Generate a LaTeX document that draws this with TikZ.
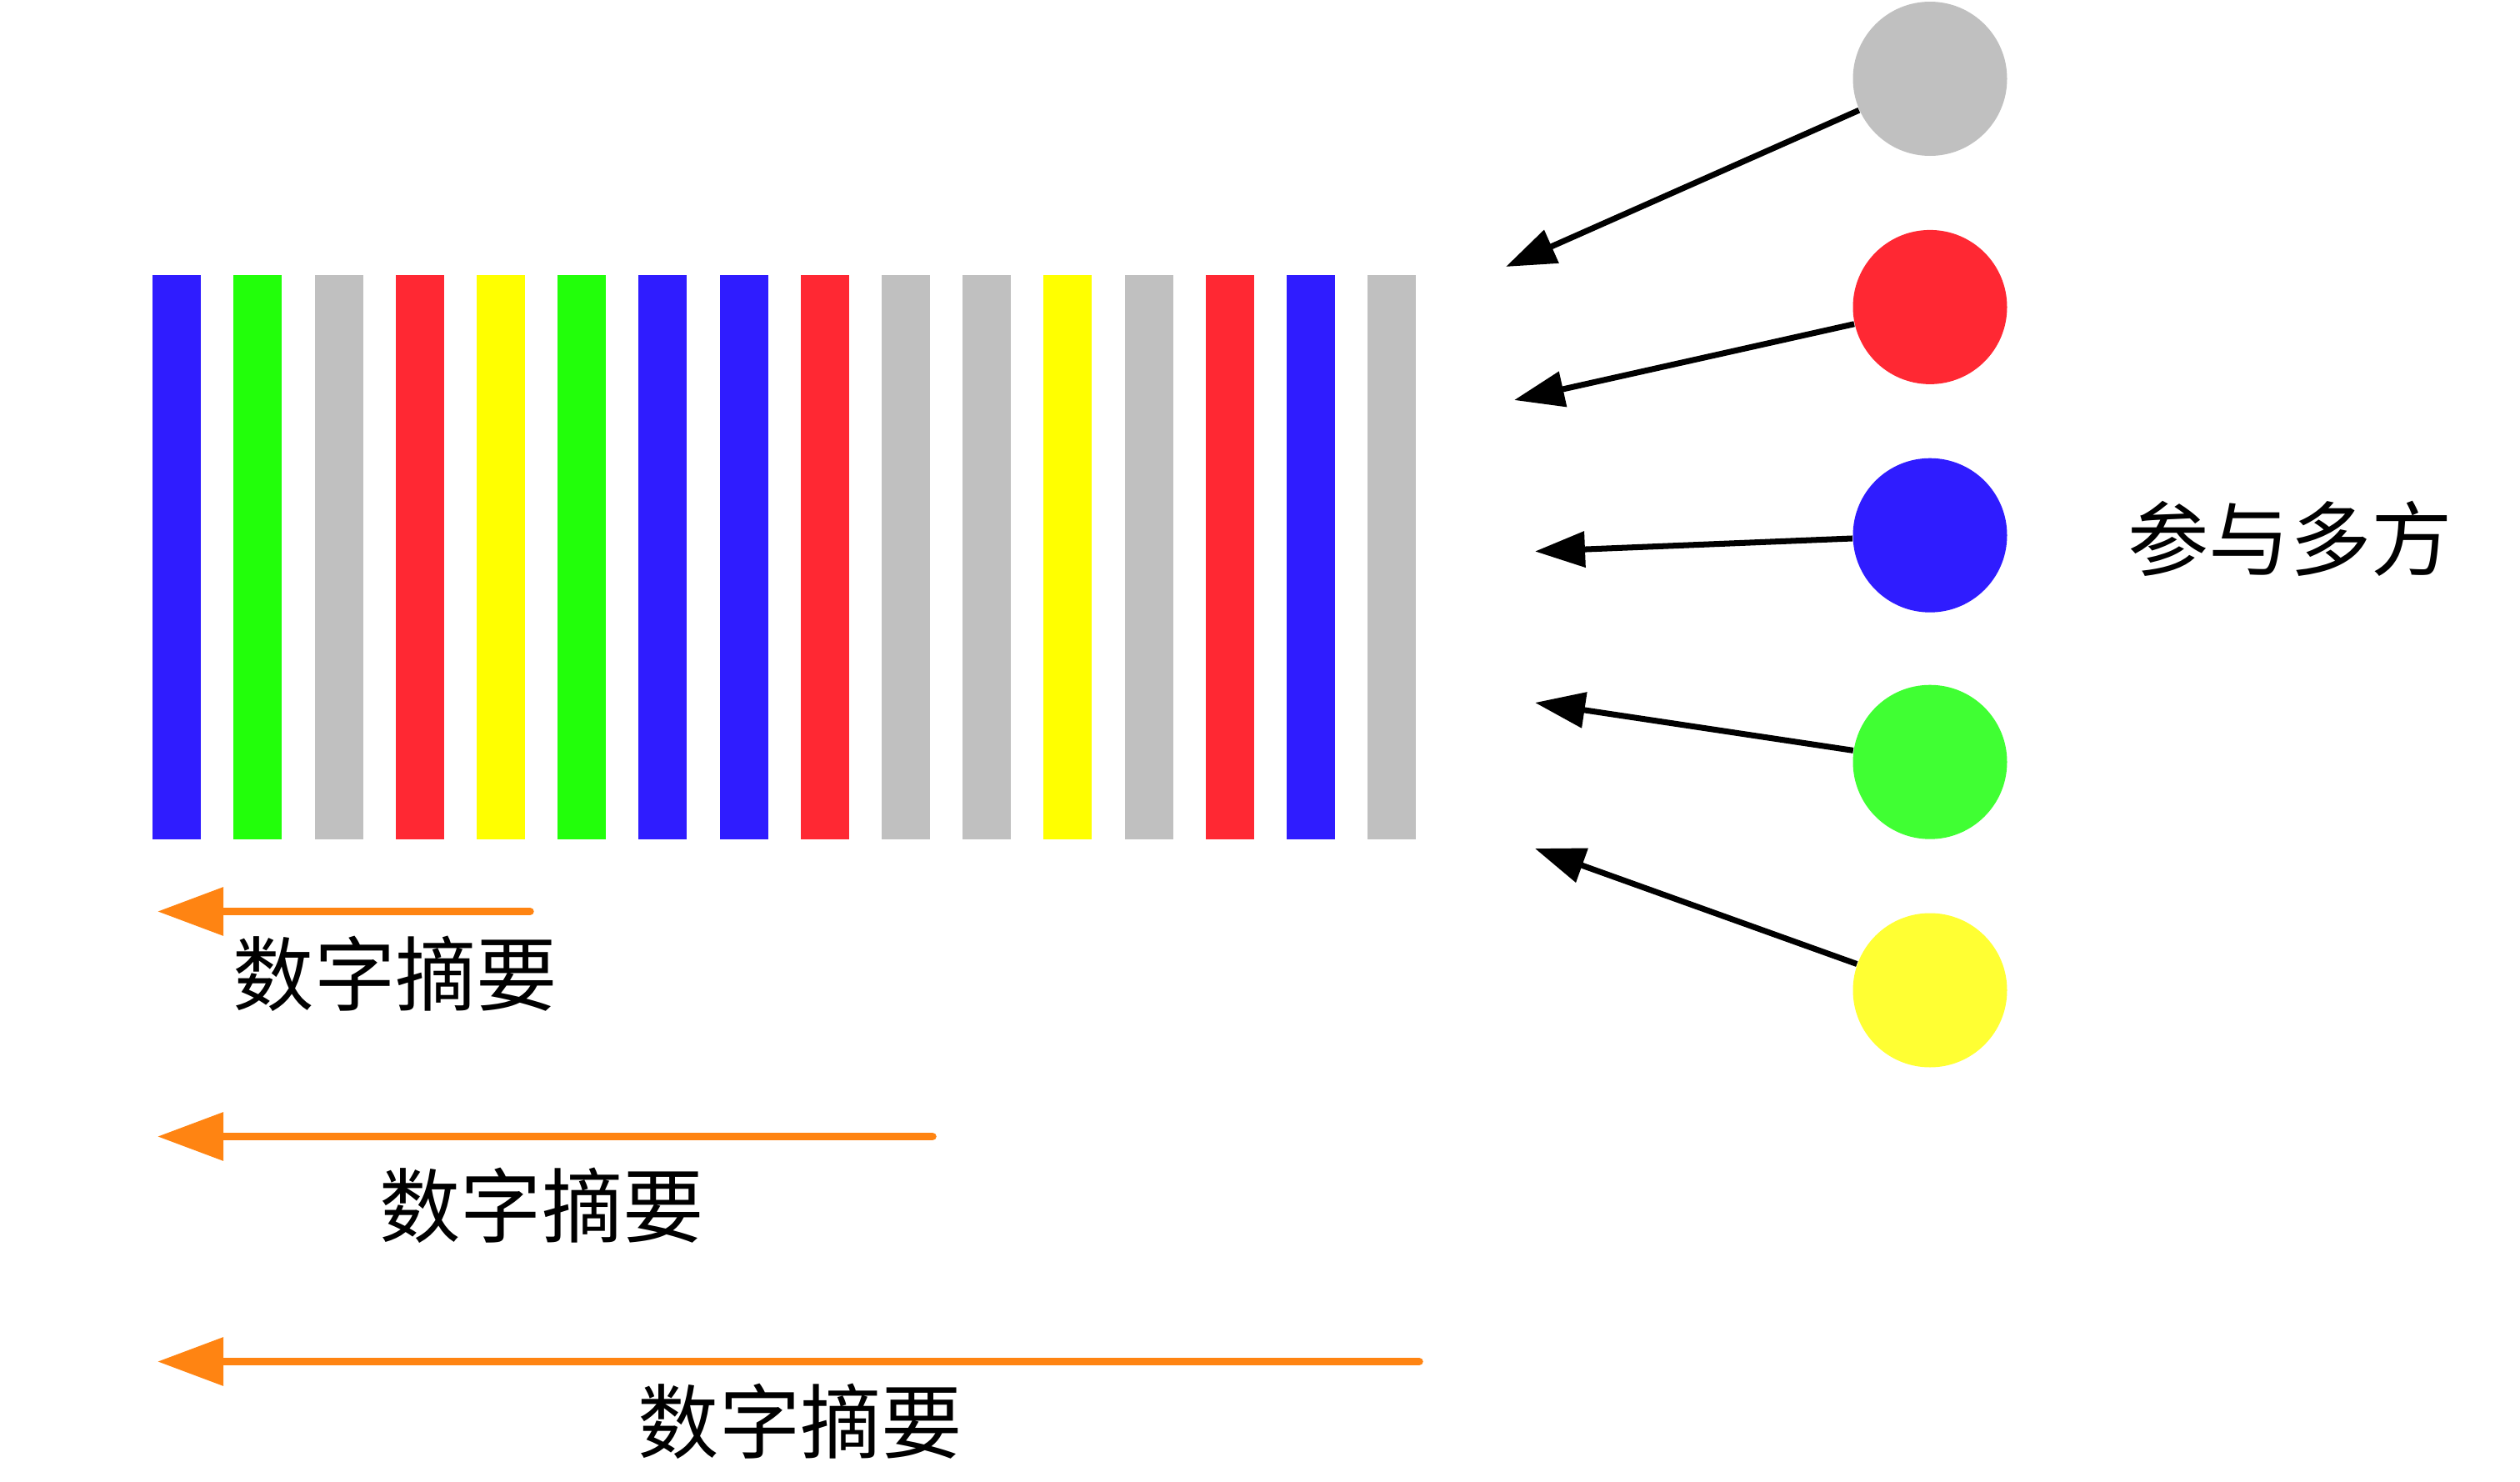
\documentclass[tikz,border=0pt]{standalone}
\usepackage{fontspec}
\newfontfamily\cjk{Noto Sans CJK SC}
\usetikzlibrary{arrows.meta,positioning}
\definecolor{cblue}{HTML}{2F1CFF}
\definecolor{cgreen}{HTML}{22FF0A}
\definecolor{cgray}{HTML}{C0C0C0}
\definecolor{cred}{HTML}{FF2833}
\definecolor{cyellow}{HTML}{FFFF00}
\definecolor{pgreen}{HTML}{40FF33}
\definecolor{pyellow}{HTML}{FFFF33}
\definecolor{dorange}{HTML}{FF8412}

\begin{document}
\begin{tikzpicture}[
  bar/.style={rectangle,fill=#1,minimum width=5.8mm,minimum height=67.7mm,inner sep=0pt},
  p/.style={circle,fill=#1,minimum size=18.5mm,inner sep=0pt},
  every node/.style={font=\cjk\fontsize{27.7}{33}\selectfont},
  arc/.style={-{Triangle[length=6mm,width=4.2mm]},line width=2pt},
  dig/.style={-{Triangle[length=7.9mm,width=5.6mm]},line width=2.7pt,line cap=round,dorange}
]
\useasboundingbox (0,0) rectangle (30.24,-17.78);
% message bars
\node[bar=cblue] (b1) at (2.122,-6.683) {};
\node[bar=cgreen] (b2) at (3.094,-6.683) {};
\node[bar=cgray] (b3) at (4.066,-6.683) {};
\node[bar=cred] (b4) at (5.038,-6.683) {};
\node[bar=cyellow] (b5) at (6.010,-6.683) {};
\node[bar=cgreen] (b6) at (6.982,-6.683) {};
\node[bar=cblue] (b7) at (7.954,-6.683) {};
\node[bar=cblue] (b8) at (8.926,-6.683) {};
\node[bar=cred] (b9) at (9.898,-6.683) {};
\node[bar=cgray] (b10) at (10.870,-6.683) {};
\node[bar=cgray] (b11) at (11.842,-6.683) {};
\node[bar=cyellow] (b12) at (12.814,-6.683) {};
\node[bar=cgray] (b13) at (13.786,-6.683) {};
\node[bar=cred] (b14) at (14.758,-6.683) {};
\node[bar=cblue] (b15) at (15.730,-6.683) {};
\node[bar=cgray] (b16) at (16.702,-6.683) {};
% parties
\node[p=cgray] (pa) at (23.16,-0.945) {};
\node[p=cred] (pb) at (23.16,-3.684) {};
\node[p=cblue] (pc) at (23.16,-6.422) {};
\node[p=pgreen] (pd) at (23.16,-9.142) {};
\node[p=pyellow] (pe) at (23.16,-11.88) {};
\node (party) at (27.48,-6.46) {参与多方};
\coordinate (ta) at (18.07,-3.20);
\coordinate (tb) at (18.17,-4.80);
\coordinate (tc) at (18.42,-6.615);
\coordinate (td) at (18.42,-8.43);
\coordinate (te) at (18.42,-10.18);
\draw[arc] (pa) -- (ta);
\draw[arc] (pb) -- (tb);
\draw[arc] (pc) -- (tc);
\draw[arc] (pd) -- (td);
\draw[arc] (pe) -- (te);
% digests
\coordinate (sa) at (6.36,-10.935);
\coordinate (ea) at (1.89,-10.935);
\coordinate (sb) at (11.19,-13.635);
\coordinate (eb) at (1.89,-13.635);
\coordinate (sc) at (17.03,-16.335);
\coordinate (ec) at (1.89,-16.335);
\draw[dig] (sa) -- (ea);
\draw[dig] (sb) -- (eb);
\draw[dig] (sc) -- (ec);
\node (da) at (4.745,-11.687) {数字摘要};
\node (db) at (6.50,-14.465) {数字摘要};
\node (dc) at (9.604,-17.05) {数字摘要};
\end{tikzpicture}
\end{document}
